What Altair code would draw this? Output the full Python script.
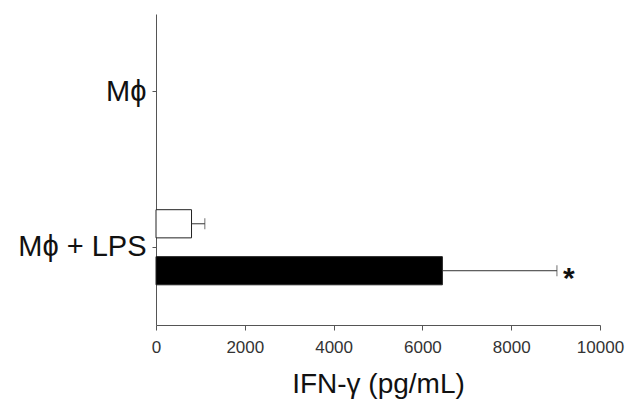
import altair as alt
import pandas as pd

categories = ["Mϕ", "Mϕ + LPS"]
groups = ["Mϕ", "Mϕ", "Mϕ + LPS", "Mϕ + LPS"]
series = ["open", "filled", "open", "filled"]
means = [0, 0, 800, 6450]
errors = [0, 0, 300, 2580]
marks = ["", "", "", "*"]
x_ticks = [0, 2000, 4000, 6000, 8000, 10000]

df = pd.DataFrame({"group": groups, "series": series, "mean": means, "err": errors, "mark": marks})
df["upper"] = df["mean"] + df["err"]

FONT = "Liberation Sans"
ink = "#333333"

y_enc = alt.Y("group:N", scale=alt.Scale(domain=categories, paddingInner=0, paddingOuter=0),
              axis=alt.Axis(title=None, labelFontSize=29, labelColor="#111111", labelFont=FONT,
                            tickSize=4, labelPadding=6, domainColor="#555555", tickColor="#555555"))
yoff = alt.YOffset("series:N", scale=alt.Scale(domain=["open", "filled"], paddingInner=0.4, paddingOuter=0.856))
x_scale = alt.Scale(domain=[0, 10000], nice=False)

base = alt.Chart(df)

bars = base.transform_filter("datum.mean > 0").mark_bar(stroke="#222222", strokeWidth=1).encode(
    x=alt.X("mean:Q", scale=x_scale,
            axis=alt.Axis(values=x_ticks, format="d", title="IFN-γ (pg/mL)", grid=False, labelFontSize=17,
                          labelColor=ink, labelFont=FONT, titleFont=FONT, titleFontSize=28,
                          titleFontWeight="normal", titleColor="#111111", tickSize=5, labelPadding=9,
                          labelFlush=False, titlePadding=15, domainColor="#555555", tickColor="#555555")),
    y=y_enc,
    yOffset=yoff,
    fill=alt.Fill("series:N", scale=alt.Scale(domain=["open", "filled"], range=["#ffffff", "#000000"]), legend=None),
)

errdf = base.transform_filter("datum.err > 0")
rules = errdf.mark_rule(color=ink, strokeWidth=1).encode(
    x=alt.X("mean:Q", scale=x_scale), x2="upper:Q", y=y_enc, yOffset=yoff)
caps = errdf.mark_tick(color=ink, thickness=1, size=11, orient="vertical").encode(
    x=alt.X("upper:Q", scale=x_scale), y=y_enc, yOffset=yoff)
stars = base.transform_filter("datum.mark != ''").mark_text(
    fontSize=30, fontWeight="bold", font=FONT, color="#111111", align="center", baseline="middle", dx=12, dy=8
).encode(x=alt.X("upper:Q", scale=x_scale), y=y_enc, yOffset=yoff, text="mark:N")

chart = alt.layer(bars, rules, caps, stars).properties(
    width=444, height=311,
    autosize=alt.AutoSizeParams(type="none"),
    padding={"left": 156, "top": 14, "right": 25, "bottom": 79},
    background="white",
).configure_view(stroke=None)

chart.save("out.html", embed_options={"renderer": "svg", "actions": False})
